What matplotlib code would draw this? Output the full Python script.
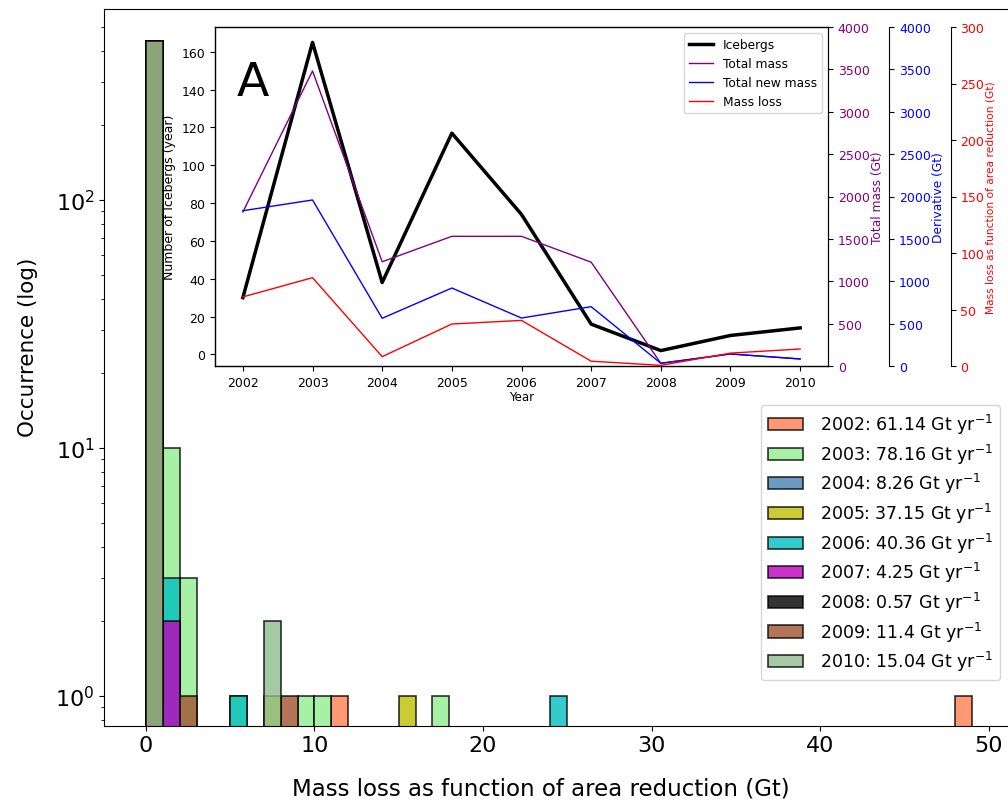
import matplotlib
matplotlib.use("Agg")
import matplotlib.pyplot as plt
import numpy as np

# yearly summary
years = [2002, 2003, 2004, 2005, 2006, 2007, 2008, 2009, 2010]
mass_loss_rate = [61.14, 78.16, 8.26, 37.15, 40.36, 4.25, 0.57, 11.4, 15.04]
icebergs = [30, 165, 38, 117, 74, 16, 2, 10, 14]
total_mass = [1817, 3481, 1230, 1530, 1530, 1225, 32, 142, 83]
total_new_mass = [1832, 1959, 563, 920, 566, 700, 32, 142, 83]

# histogram of mass loss per iceberg (bin width 1 Gt), per year
bin_lefts = [
    [0, 11, 48],
    [0, 1, 2, 5, 9, 10, 17],
    [0],
    [0, 7, 15],
    [0, 1, 5, 24],
    [0, 1],
    [0],
    [0, 2, 8],
    [0, 7],
]
bin_counts = [
    [438, 1, 1],
    [438, 10, 3, 1, 1, 1, 1],
    [438],
    [438, 1, 1],
    [438, 3, 1, 1],
    [438, 2],
    [438],
    [438, 1, 1],
    [438, 2],
]
year_colors = ["coral", "lightgreen", "steelblue", "y", "c", "m", "k",
               "sienna", "darkseagreen"]

fig = plt.figure(figsize=(10.08, 8.03), dpi=100)
ax = fig.add_axes([0.1035, 0.095, 0.9015, 0.8925])

for i, year in enumerate(years):
    ax.bar(bin_lefts[i], bin_counts[i], width=1, align="edge",
           color=year_colors[i], edgecolor="k", linewidth=1.2, alpha=0.8,
           label=f"{year}: {mass_loss_rate[i]:g} Gt yr$^{{-1}}$")

ax.set_yscale("log")
ax.set_ylim(0.759, 589)
ax.set_xlim(-2.47, 51.45)
ax.set_xticks([0, 10, 20, 30, 40, 50])
ax.tick_params(labelsize=16)
ax.set_xlabel("Mass loss as function of area reduction (Gt)", fontsize=16.5)
ax.set_ylabel("Occurrence (log)", fontsize=15.5)
ax.xaxis.set_label_coords(0.4806, -0.071)
ax.yaxis.set_label_coords(-0.073, 0.53)
ax.legend(loc="upper right", fontsize=12.5, labelspacing=0.32, handletextpad=1.0,
          bbox_to_anchor=(1000 / 1008, 1 - 406 / 803),
          bbox_transform=fig.transFigure, borderaxespad=0)

# inset with the yearly series
ax_in = fig.add_axes([215 / 1008, 1 - 367 / 803, 613 / 1008, 339 / 803])
l1, = ax_in.plot(years, icebergs, color="k", lw=2.5, label="Icebergs")
ax_in.set_xlim(2001.6, 2010.4)
ax_in.set_xticks(years)
ax_in.tick_params(labelsize=9)
ax_in.set_xlabel("Year", fontsize=8.5, labelpad=1)
ax_in.set_ylabel("Number of Icebergs (year)", fontsize=9)
ax_in.text(0.036, 0.80, "A", transform=ax_in.transAxes, fontsize=34,
           ha="left", va="baseline")

ax_m = ax_in.twinx()
l2, = ax_m.plot(years, total_mass, color="purple", lw=1, label="Total mass")
ax_m.set_ylim(0, 4000)
ax_m.set_ylabel("Total mass (Gt)", color="purple", fontsize=8.8, labelpad=1)
ax_m.tick_params(labelsize=9, labelcolor="purple")

ax_d = ax_in.twinx()
ax_d.spines["right"].set_position(("axes", 1.1))
l3, = ax_d.plot(years, total_new_mass, color="blue", lw=1, label="Total new mass")
ax_d.set_ylim(0, 4000)
ax_d.set_ylabel("Derivative (Gt)", color="blue", fontsize=8.8, labelpad=1)
ax_d.tick_params(labelsize=9, labelcolor="blue")

ax_r = ax_in.twinx()
ax_r.spines["right"].set_position(("axes", 1.2))
l4, = ax_r.plot(years, mass_loss_rate, color="red", lw=1, label="Mass loss")
ax_r.set_ylim(0, 300)
ax_r.set_ylabel("Mass loss as function of area reduction (Gt)", color="red",
                fontsize=7.7, labelpad=1)
ax_r.tick_params(labelsize=9, labelcolor="red")

ax_r.legend(handles=[l1, l2, l3, l4], loc="upper right", fontsize=8.8)

fig.savefig("out.png", dpi=100)
